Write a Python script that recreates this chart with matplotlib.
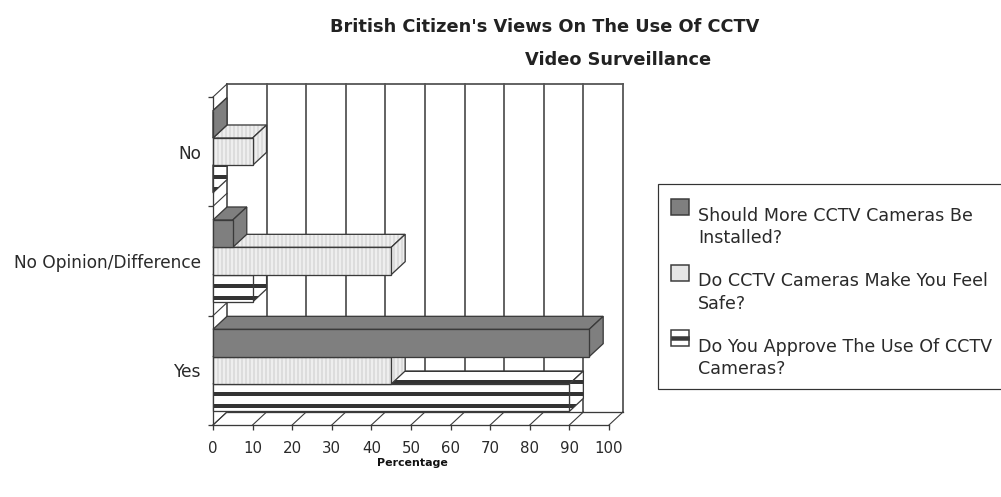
import matplotlib
matplotlib.use('Agg')
import matplotlib.pyplot as plt
from matplotlib.patches import Polygon, Rectangle

plt.rcParams['font.family'] = ['DejaVu Sans']
plt.rcParams['hatch.linewidth'] = 2

categories = ['Yes', 'No Opinion/Difference', 'No']
more_cameras = [95, 5, 0]
feel_safe = [45, 45, 10]
approve = [90, 10, 0]
series_names = ['Should More CCTV Cameras Be\nInstalled?',
                'Do CCTV Cameras Make You Feel\nSafe?',
                'Do You Approve The Use Of CCTV\nCameras?']
xticks = list(range(0, 101, 10))

W, H = 1001, 497
DPI = 72
line = '#3a3a3a'
text_col = '#2a2a2a'
# depth of the fake 3d box, in data units
dx = 3.53
dy = 0.119
stripe_gap = 0.11

fig = plt.figure(figsize=(W / DPI, H / DPI), dpi=DPI)
ax = fig.add_axes([213 / W, 1 - 425 / H, 396 / W, 328 / H])
ax.set_xlim(0, 100)
ax.set_ylim(0, 3)
ax.patch.set_visible(False)
for s in ['top', 'right']:
    ax.spines[s].set_visible(False)
for s in ['left', 'bottom']:
    ax.spines[s].set_color(line)
    ax.spines[s].set_linewidth(1.3)
    ax.spines[s].set_zorder(1)


def poly(pts, fc, hatch=None, hc=None, z=3):
    p = Polygon(pts, closed=True, facecolor=fc, edgecolor=hc if hc else 'none',
                hatch=hatch, linewidth=0, clip_on=False, zorder=z)
    ax.add_patch(p)
    if fc == 'white':
        # horizontal stripes, hatch can't be lined up with the picture
        k = 0
        while k * stripe_gap < 3.2:
            ln, = ax.plot([-1, 110], [0.065 + k * stripe_gap] * 2, color='#333333', lw=4, zorder=z)
            ln.set_clip_path(p)
            k += 1
    ax.add_patch(Polygon(pts, closed=True, fill=False, edgecolor=line,
                         linewidth=1.3, clip_on=False, zorder=z))


def bar3d(y, v, h, fc, hatch=None, hc=None, z=3):
    lo, hi = y - h / 2, y + h / 2
    poly([(0, hi), (dx, hi + dy), (v + dx, hi + dy), (v, hi)], fc, hatch, hc, z)
    poly([(v, lo), (v + dx, lo + dy), (v + dx, hi + dy), (v, hi)], fc, hatch, hc, z)
    poly([(0, lo), (v, lo), (v, hi), (0, hi)], fc, hatch, hc, z)


# back wall, floor and left wall
for t in xticks[1:]:
    ax.plot([t + dx, t + dx], [dy, 3 + dy], color='#555555', lw=1.8, clip_on=False, zorder=1)
for t in xticks:
    ax.plot([t, t + dx], [0, dy], color=line, lw=1.1, clip_on=False, zorder=1)
ax.plot([dx, 100 + dx], [dy, dy], color=line, lw=1.3, clip_on=False, zorder=1)
ax.plot([dx, 100 + dx], [3 + dy, 3 + dy], color='#555555', lw=1.8, clip_on=False, zorder=1)
ax.plot([dx, dx], [dy, 3 + dy], color='#555555', lw=1.8, clip_on=False, zorder=1)
for t in range(4):
    ax.plot([0, dx], [t, t + dy], color=line, lw=1.1, clip_on=False, zorder=1)

# bars: inside a group the stripes go first and the dark one last
bar_h = 0.25
styles = [('white', None, None), ('#eeeeee', '|||', '#dcdcdc'), ('#7f7f7f', None, None)]
values = [approve, feel_safe, more_cameras]
shifts = [-bar_h, 0, bar_h]
z = 3
for i in range(len(categories) - 1, -1, -1):
    for vals, st, sh in zip(values, styles, shifts):
        bar3d(i + 0.5 + sh, vals[i], bar_h, st[0], st[1], st[2], z)
        z += 1

ax.set_xticks(xticks)
ax.set_xticklabels([str(t) for t in xticks], fontsize=15, color=text_col)
ax.set_yticks(range(4))
ax.set_yticklabels([])
ax.set_yticks([0.5, 1.5, 2.5], minor=True)
ax.set_yticklabels(categories, minor=True, fontsize=17, color=text_col)
ax.tick_params(axis='y', which='minor', length=0, pad=12)
ax.tick_params(axis='both', which='major', length=5, width=1.3, color=line)
ax.tick_params(axis='x', pad=11)

fig.text(545 / W, 1 - 27 / H, "British Citizen's Views On The Use Of CCTV", ha='center', va='center',
         fontsize=17.8, color='#222222', fontweight='bold')
fig.text(618 / W, 1 - 60 / H, 'Video Surveillance', ha='center', va='center',
         fontsize=17.8, color='#222222', fontweight='bold')
fig.text(412 / W, 1 - 463 / H, 'Percentage', ha='center', va='center',
         fontsize=11, color='#111111', fontweight='bold')

# legend box, done by hand because the key sits above the first text line
fig.add_artist(Rectangle((658 / W, 1 - 389 / H), 345 / W, 205 / H, transform=fig.transFigure,
                         facecolor='white', edgecolor='#333333', linewidth=1.2))
key_colors = ['#7f7f7f', '#e6e6e6', 'white']
for k, name in enumerate(series_names):
    top = 199 + k * 65.5
    fig.add_artist(Rectangle((671 / W, 1 - (top + 16) / H), 18 / W, 16 / H, transform=fig.transFigure,
                             facecolor=key_colors[k], edgecolor=line, linewidth=1.5))
    if k == 2:
        fig.add_artist(Rectangle((671 / W, 1 - (top + 10) / H), 18 / W, 4 / H, transform=fig.transFigure,
                                 facecolor=line, edgecolor=line, linewidth=0.5))
    fig.text(698 / W, 1 - (top + 28) / H, name, ha='left', va='center', fontsize=17.5,
             color=text_col, linespacing=1.3)

fig.savefig('out.png', dpi=DPI)
